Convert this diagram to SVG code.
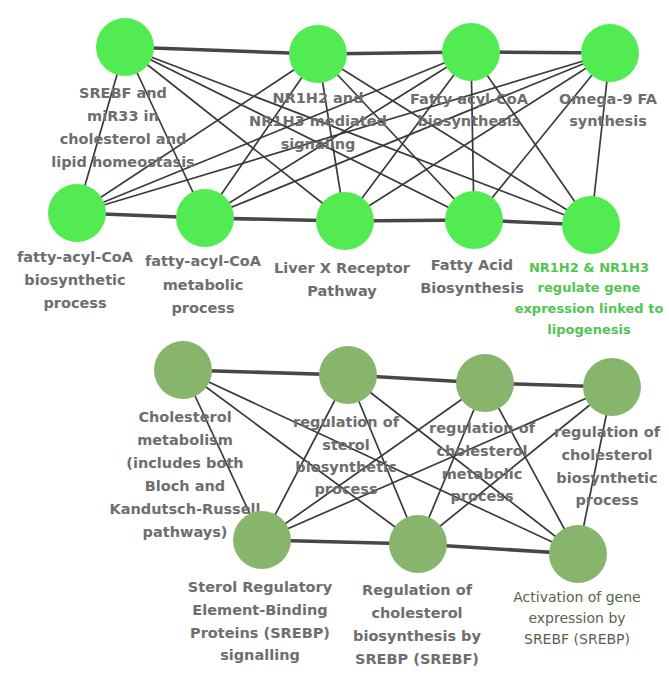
<svg xmlns="http://www.w3.org/2000/svg" width="669" height="675" viewBox="0 0 669 675">
<style>
.e{stroke:#3a3a3a;stroke-width:1.7;fill:none}
.t{stroke:#474747;stroke-width:3.6;fill:none}
.g1{fill:#52ec52}
.g2{fill:#87b56c}
text{font-family:"DejaVu Sans",Verdana,sans-serif;font-weight:bold;font-size:14.5px;fill:#6e6e6e;text-anchor:middle}
.gl{fill:#50c650;font-size:13px}
.al{font-weight:normal;fill:#55654c;font-size:14px}
</style>
<rect width="669" height="675" fill="#ffffff"/>
<g id="connectors">
<line class="t" x1="125" y1="47" x2="318" y2="54"/>
<line class="t" x1="318" y1="54" x2="471" y2="52"/>
<line class="t" x1="471" y1="52" x2="610" y2="53"/>
<line class="t" x1="77" y1="213" x2="205" y2="218"/>
<line class="t" x1="205" y1="218" x2="345" y2="221"/>
<line class="t" x1="345" y1="221" x2="474" y2="220"/>
<line class="t" x1="474" y1="220" x2="591" y2="225"/>
<line class="e" x1="125" y1="47" x2="77" y2="213"/>
<line class="e" x1="125" y1="47" x2="205" y2="218"/>
<line class="e" x1="125" y1="47" x2="345" y2="221"/>
<line class="e" x1="125" y1="47" x2="474" y2="220"/>
<line class="e" x1="125" y1="47" x2="591" y2="225"/>
<line class="e" x1="318" y1="54" x2="77" y2="213"/>
<line class="e" x1="318" y1="54" x2="205" y2="218"/>
<line class="e" x1="318" y1="54" x2="345" y2="221"/>
<line class="e" x1="318" y1="54" x2="474" y2="220"/>
<line class="e" x1="318" y1="54" x2="591" y2="225"/>
<line class="e" x1="471" y1="52" x2="77" y2="213"/>
<line class="e" x1="471" y1="52" x2="205" y2="218"/>
<line class="e" x1="471" y1="52" x2="345" y2="221"/>
<line class="e" x1="471" y1="52" x2="474" y2="220"/>
<line class="e" x1="471" y1="52" x2="591" y2="225"/>
<line class="e" x1="610" y1="53" x2="77" y2="213"/>
<line class="e" x1="610" y1="53" x2="205" y2="218"/>
<line class="e" x1="610" y1="53" x2="345" y2="221"/>
<line class="e" x1="610" y1="53" x2="474" y2="220"/>
<line class="e" x1="610" y1="53" x2="591" y2="225"/>
<line class="t" x1="183" y1="370" x2="348" y2="375"/>
<line class="t" x1="348" y1="375" x2="485" y2="383"/>
<line class="t" x1="485" y1="383" x2="612" y2="387"/>
<line class="t" x1="262" y1="540" x2="418" y2="544"/>
<line class="t" x1="418" y1="544" x2="578" y2="554"/>
<line class="e" x1="183" y1="370" x2="262" y2="540"/>
<line class="e" x1="183" y1="370" x2="418" y2="544"/>
<line class="e" x1="183" y1="370" x2="578" y2="554"/>
<line class="e" x1="348" y1="375" x2="262" y2="540"/>
<line class="e" x1="348" y1="375" x2="418" y2="544"/>
<line class="e" x1="348" y1="375" x2="578" y2="554"/>
<line class="e" x1="485" y1="383" x2="262" y2="540"/>
<line class="e" x1="485" y1="383" x2="418" y2="544"/>
<line class="e" x1="485" y1="383" x2="578" y2="554"/>
<line class="e" x1="612" y1="387" x2="262" y2="540"/>
<line class="e" x1="612" y1="387" x2="418" y2="544"/>
<line class="e" x1="612" y1="387" x2="578" y2="554"/>
</g>
<g id="n-srebf"><circle class="g1" cx="125" cy="47" r="29"/>
<text x="123" y="98">SREBF and</text><text x="123" y="121">miR33 in</text><text x="123" y="144">cholesterol and</text><text x="123" y="167">lipid homeostasis</text></g>
<g id="n-nr1h2"><circle class="g1" cx="318" cy="54" r="29"/>
<text x="318" y="103">NR1H2 and</text><text x="318" y="126">NR1H3 mediated</text><text x="318" y="149">signaling</text></g>
<g id="n-facoa-bios"><circle class="g1" cx="471" cy="52" r="29"/>
<text x="469" y="104">Fatty acyl-CoA</text><text x="469" y="126">biosynthesis</text></g>
<g id="n-omega9"><circle class="g1" cx="610" cy="53" r="29"/>
<text x="608" y="104">Omega-9 FA</text><text x="608" y="126">synthesis</text></g>
<g id="n-facoa-biosproc"><circle class="g1" cx="77" cy="213" r="29"/>
<text x="75" y="262">fatty-acyl-CoA</text><text x="75" y="285">biosynthetic</text><text x="75" y="308">process</text></g>
<g id="n-facoa-metab"><circle class="g1" cx="205" cy="218" r="29"/>
<text x="203" y="266">fatty-acyl-CoA</text><text x="203" y="290">metabolic</text><text x="203" y="313">process</text></g>
<g id="n-lxr"><circle class="g1" cx="345" cy="221" r="29"/>
<text x="342" y="273">Liver X Receptor</text><text x="342" y="296">Pathway</text></g>
<g id="n-fab"><circle class="g1" cx="474" cy="220" r="29"/>
<text x="472" y="270">Fatty Acid</text><text x="472" y="293">Biosynthesis</text></g>
<g id="n-nr1h2-nr1h3"><circle class="g1" cx="591" cy="225" r="29"/>
<text class="gl" x="589" y="272">NR1H2 &amp; NR1H3</text><text class="gl" x="589" y="292">regulate gene</text><text class="gl" x="589" y="313">expression linked to</text><text class="gl" x="589" y="334">lipogenesis</text></g>
<g id="n-chol-metab"><circle class="g2" cx="183" cy="370" r="29"/>
<text x="185" y="422">Cholesterol</text><text x="185" y="445">metabolism</text><text x="185" y="468">(includes both</text><text x="185" y="491">Bloch and</text><text x="185" y="514">Kandutsch-Russell</text><text x="185" y="537">pathways)</text></g>
<g id="n-reg-sterol"><circle class="g2" cx="348" cy="375" r="29"/>
<text x="346" y="427">regulation of</text><text x="346" y="450">sterol</text><text x="346" y="472">biosynthetic</text><text x="346" y="494">process</text></g>
<g id="n-reg-chol-metab"><circle class="g2" cx="485" cy="383" r="29"/>
<text x="482" y="433">regulation of</text><text x="482" y="456">cholesterol</text><text x="482" y="479">metabolic</text><text x="482" y="501">process</text></g>
<g id="n-reg-chol-bios"><circle class="g2" cx="612" cy="387" r="29"/>
<text x="607" y="437">regulation of</text><text x="607" y="460">cholesterol</text><text x="607" y="483">biosynthetic</text><text x="607" y="505">process</text></g>
<g id="n-srebp-sig"><circle class="g2" cx="262" cy="540" r="29"/>
<text x="260" y="592">Sterol Regulatory</text><text x="260" y="615">Element-Binding</text><text x="260" y="638">Proteins (SREBP)</text><text x="260" y="660">signalling</text></g>
<g id="n-reg-chol-srebp"><circle class="g2" cx="418" cy="544" r="29"/>
<text x="417" y="595">Regulation of</text><text x="417" y="618">cholesterol</text><text x="417" y="641">biosynthesis by</text><text x="417" y="664">SREBP (SREBF)</text></g>
<g id="n-activation"><circle class="g2" cx="578" cy="554" r="29"/>
<text class="al" x="577" y="602">Activation of gene</text><text class="al" x="577" y="623">expression by</text><text class="al" x="577" y="644">SREBF (SREBP)</text></g>
</svg>
